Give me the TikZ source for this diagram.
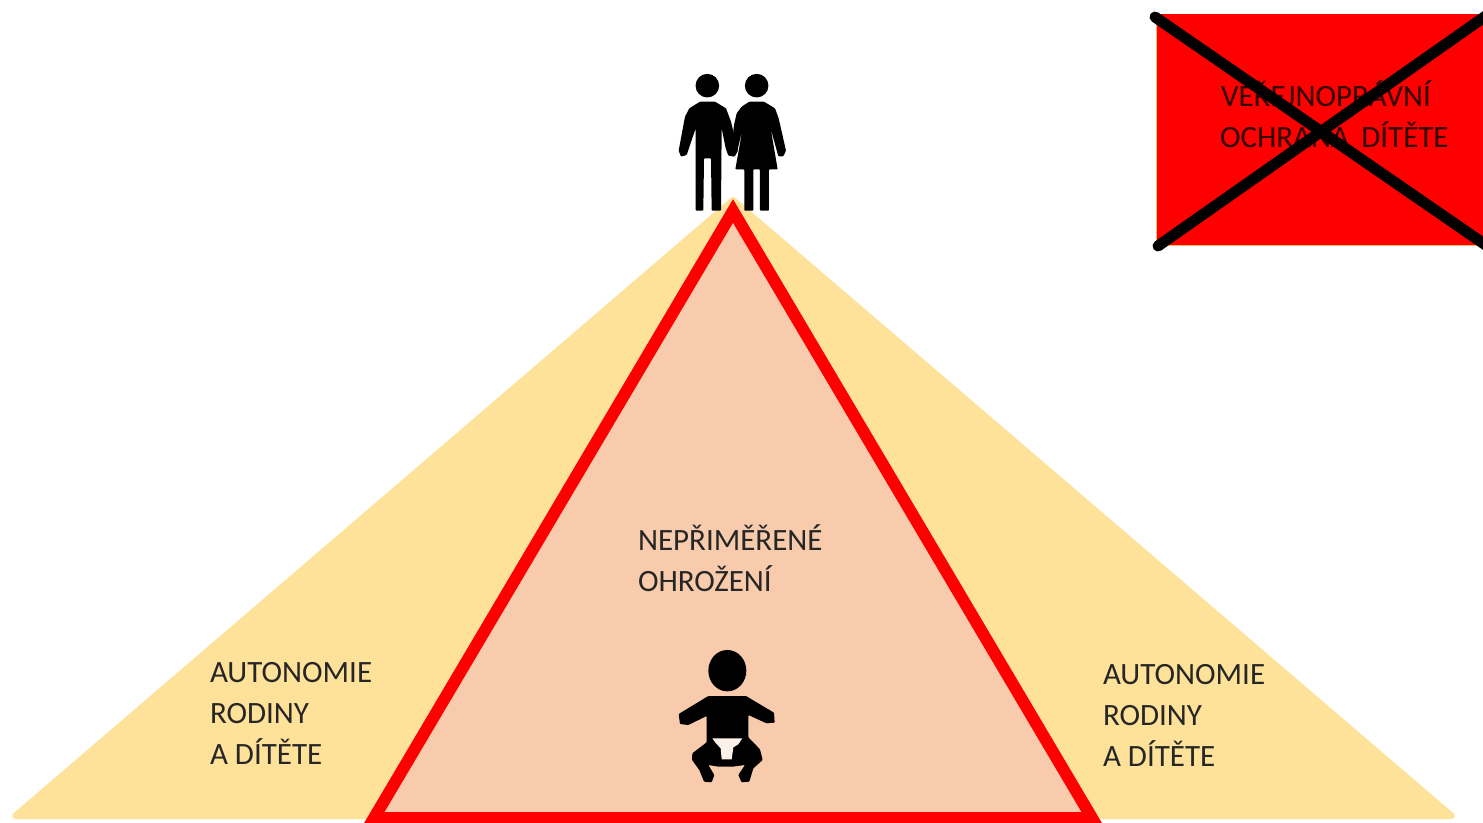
\documentclass[tikz,border=0pt]{standalone}
\usepackage{fontspec}
\setmainfont{Carlito}
\definecolor{autoY}{HTML}{FFE299}
\definecolor{threat}{HTML}{F8CBAD}
\definecolor{diaper}{HTML}{FCF1E8}
\tikzset{
  lbl/.style={anchor=base west,inner sep=0pt,outer sep=0pt,font=\fontsize{31}{31}\selectfont,text=black!85},
  lblx/.style={lbl,text=black!70!red!60!black},
  crossline/.style={draw=black,line width=11pt,line cap=round},
  icon/.style={fill=black,rounded corners=0.8pt}
}
\begin{document}
\begin{tikzpicture}[x=1pt,y=-1pt]
\useasboundingbox (0,0) rectangle (1483,822);
\fill[white] (0,0) rectangle (1483,822);
% big triangle
\fill[autoY,draw=autoY,line width=6pt,line join=round] (733,200) -- (15,816) -- (1452,816) -- cycle;
\begin{scope}
\clip (0,0) rectangle (1483,822);
% red triangle
\draw[red,fill=threat,line width=12pt,line join=miter] (733,211) -- (374,818) -- (1092,818) -- cycle;
\end{scope}
% box
\fill[red,draw=autoY!60!orange,line width=1pt] (1156,14) rectangle (1490,245);
\fill[red] (1157,14) rectangle (1483,244);
\node[lblx] (t3a) at (1221,106) {VEŘEJNOPRÁVNÍ};
\node[lblx] (t3b) at (1220,147) {OCHRANA\, DÍTĚTE};
\coordinate (c1) at (1155,17);
\coordinate (c2) at (1490,248);
\coordinate (c3) at (1158,246);
\coordinate (c4) at (1490,13);
\begin{scope}
\clip (0,0) rectangle (1483,822);
\draw[crossline] (c1) -- (c2);
\draw[crossline] (c3) -- (c4);
\end{scope}
% labels
\node[lbl] (l1) at (210,682) {AUTONOMIE};
\node[lbl] (l2) at (210,723) {RODINY};
\node[lbl] (l3) at (210,764) {A DÍTĚTE};
\node[lbl] (r1) at (1103,684) {AUTONOMIE};
\node[lbl] (r2) at (1103,725) {RODINY};
\node[lbl] (r3) at (1103,766) {A DÍTĚTE};
\node[lbl] (m1) at (638,550) {NEPŘIMĚŘENÉ};
\node[lbl] (m2) at (638,591) {OHROŽENÍ};
% parents
\begin{scope}[shift={(660,60)},x=0.3333pt,y=-0.3333pt]
\fill[black] (142,77) circle[radius=11.8pt];
\fill[black] (290,77) circle[radius=11.8pt];
\fill[icon] (120,125) -- (165,125) -- (198,145) -- (213,185) -- (234,272) -- (224,290) -- (205,287) -- (197,265) -- (185,205) -- (183,452) -- (155,452) -- (153,295) -- (132,295) -- (130,452) -- (107,452) -- (107,205) -- (80,285) -- (63,290) -- (56,272) -- (75,170) -- (88,145) -- cycle;
\fill[icon] (268,125) -- (312,125) -- (345,145) -- (356,175) -- (378,272) -- (370,289) -- (355,289) -- (332,205) -- (353,328) -- (327,328) -- (327,452) -- (300,452) -- (300,328) -- (280,328) -- (280,452) -- (253,452) -- (253,328) -- (226,328) -- (248,205) -- (232,272) -- (216,250) -- (222,195) -- (230,160) -- (245,140) -- cycle;
\end{scope}
% baby
\begin{scope}[shift={(660,640)},x=0.3333pt,y=-0.3333pt]
\fill[black] (202,92) ellipse[x radius=19pt,y radius=20.7pt];
\fill[icon] (145,168) -- (258,168) -- (342,218) -- (344,248) -- (320,250) -- (265,225) -- (265,292) -- (300,328) -- (308,360) -- (280,385) -- (268,425) -- (245,427) -- (235,405) -- (255,375) -- (218,380) -- (175,380) -- (145,375) -- (163,405) -- (155,427) -- (132,425) -- (118,390) -- (96,360) -- (97,340) -- (140,307) -- (140,228) -- (85,255) -- (60,252) -- (56,222) -- cycle;
\fill[diaper] (157,295) -- (247,295) -- (235,313) -- (220,322) -- (215,358) -- (185,358) -- (182,325) -- (168,310) -- cycle;
\end{scope}
\end{tikzpicture}
\end{document}
